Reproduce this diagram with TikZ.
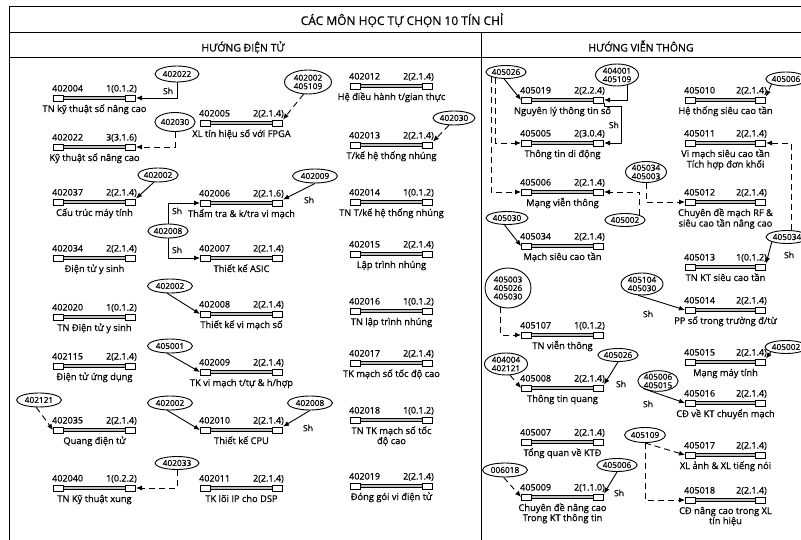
\documentclass[tikz,border=0pt]{standalone}
\usepackage{fontspec}
\setmainfont{Open Sans}[FakeBold=0.6]
\usetikzlibrary{arrows.meta,shapes.geometric}
\tikzset{
 sqbox/.style={draw, fill=white, rectangle, minimum width=10pt, minimum height=6pt, inner sep=0pt, line width=0.8pt},
 barline/.style={draw, double=gray!50, double distance=1.8pt, line width=0.7pt},
 codelbl/.style={inner sep=0pt, font=\fontsize{9}{9}\selectfont},
 namelbl/.style={inner sep=0pt, font=\fontsize{9.3}{10}\selectfont},
 pre/.style={draw, ellipse, fill=white, inner sep=0pt, line width=0.9pt, align=center, font=\fontsize{8.3}{8.5}\selectfont},
 arr/.style={line width=0.9pt, -{Latex[length=6pt,width=5pt]}},
 dsh/.style={dash pattern=on 6pt off 4pt},
 shlbl/.style={inner sep=0pt, font=\fontsize{8.5}{9}\selectfont},
 framel/.style={line width=1pt},
 hdr/.style={inner sep=0pt, font=\fontsize{10.5}{11}\selectfont},
}
\newcommand\course[7]{%
 \node[sqbox,anchor=west] (#1l) at (#2,#4) {};
 \node[sqbox,anchor=east] (#1r) at (#3,#4) {};
 \draw[barline] (#1l.east) -- (#1r.west);
 \node[codelbl,anchor=base west] (#1c) at (#2-1,#4-6.5) {#5};
 \node[codelbl,anchor=base east] (#1k) at (#3+1,#4-6.5) {#6};
 \node[namelbl,anchor=base] (#1t) at ({(#2+#3)/2},#4+14) {\begin{tabular}[t]{@{}c@{}}#7\end{tabular}};
}
\begin{document}
\begin{tikzpicture}[x=1pt,y=-1pt]
\useasboundingbox (0,0) rectangle (801,540);
% frame
\draw[framel] (801,7) -- (9,7) -- (9,540);
\draw[framel] (9,33) -- (801,33);
\draw[framel] (9,58) -- (801,58);
\draw[framel] (481,33) -- (481,540);
\node[hdr,anchor=base,font=\fontsize{12}{12}\selectfont] (title) at (402,25) {CÁC MÔN HỌC TỰ CHỌN 10 TÍN CHỈ};
\node[hdr,anchor=base] (hdl) at (243,51.5) {HƯỚNG ĐIỆN TỬ};
\node[hdr,anchor=base] (hdr) at (641,51.5) {HƯỚNG VIỄN THÔNG};

% column A
\course{a1}{53}{136}{98}{402004}{1(0.1.2)}{TN kỹ thuật số nâng cao}
\course{a2}{53}{136}{147}{402022}{3(3.1.6)}{Kỹ thuật số nâng cao}
\course{a3}{53}{136}{202}{402037}{2(2.1.4)}{Cấu trúc máy tính}
\course{a4}{53}{136}{258}{402034}{2(2.1.4)}{Điện tử y sinh}
\course{a5}{53}{136}{317}{402020}{1(0.1.2)}{TN Điện tử y sinh}
\course{a6}{53}{136}{366}{402115}{2(2.1.4)}{Điện tử ứng dụng}
\course{a7}{53}{136}{430}{402035}{2(2.1.4)}{Quang điện tử}
\course{a8}{53}{136}{488}{402040}{1(0.2.2)}{TN Kỹ thuật xung}
% column B
\course{b1}{200}{283}{123}{402005}{2(2.1.4)}{XL tín hiệu số với FPGA}
\course{b2}{200}{283}{203}{402006}{2(2.1.6)}{Thẩm tra \& k/tra vi mạch}
\course{b3}{200}{283}{258}{402007}{2(2.1.4)}{Thiết kế ASIC}
\course{b4}{200}{283}{314}{402008}{2(2.1.4)}{Thiết kế vi mạch số}
\course{b5}{200}{283}{372}{402009}{2(2.1.4)}{TK vi mạch t/tự \& h/hợp}
\course{b6}{200}{283}{430}{402010}{2(2.1.4)}{Thiết kế CPU}
\course{b7}{200}{283}{488}{402011}{2(2.1.4)}{TK lõi IP cho DSP}
% column C
\course{c1}{350}{433}{86}{402012}{2(2.1.4)}{Hệ điều hành t/gian thực}
\course{c2}{350}{433}{145}{402013}{2(2.1.4)}{T/kế hệ thống nhúng}
\course{c3}{350}{433}{202}{402014}{1(0.1.2)}{TN T/kế hệ thống nhúng}
\course{c4}{350}{433}{254}{402015}{2(2.1.4)}{Lập trình nhúng}
\course{c5}{350}{433}{311}{402016}{1(0.1.2)}{TN lập trình nhúng}
\course{c6}{350}{433}{363}{402017}{2(2.1.4)}{TK mạch số tốc độ cao}
\course{c7}{350}{433}{420}{402018}{1(0.1.2)}{TN TK mạch số tốc\\độ cao}
\course{c8}{350}{433}{486}{402019}{2(2.1.4)}{Đóng gói vi điện tử}
% column D
\course{d1}{521}{604}{100}{405019}{2(2.2.4)}{Nguyên lý thông tin số}
\course{d2}{521}{604}{143}{405005}{2(3.0.4)}{Thông tin di động}
\course{d3}{521}{604}{192}{405006}{2(2.1.4)}{Mạng viễn thông}
\course{d4}{521}{604}{246}{405034}{2(2.1.4)}{Mạch siêu cao tần}
\course{d5}{521}{604}{335}{405107}{1(0.1.2)}{TN viễn thông}
\course{d6}{521}{604}{388}{405008}{2(2.1.4)}{Thông tin quang}
\course{d7}{521}{604}{442}{405007}{2(2.1.4)}{Tổng quan về KTĐ}
\course{d8}{521}{604}{497}{405009}{2(1.1.0)}{Chuyên đề nâng cao\\Trong KT thông tin}
% column E
\course{e1}{685}{766}{100}{405010}{2(2.1.4)}{Hệ thống siêu cao tần}
\course{e2}{685}{766}{143}{405011}{2(2.1.4)}{Vi mạch siêu cao tần\\Tích hợp đơn khối}
\course{e3}{685}{766}{202}{405012}{2(2.1.4)}{Chuyên đề mạch RF \&\\siêu cao tần nâng cao}
\course{e4}{685}{766}{267}{405013}{1(0.1.2)}{TN KT siêu cao tần}
\course{e5}{685}{766}{310}{405014}{2(2.1.4)}{PP số trong trường đ/từ}
\course{e6}{685}{766}{362}{405015}{2(2.1.4)}{Mạng máy tính}
\course{e7}{685}{766}{403}{405016}{2(2.1.4)}{CĐ về KT chuyển mạch}
\course{e8}{685}{766}{455}{405017}{2(2.1.4)}{XL ảnh \& XL tiếng nói}
\course{e9}{685}{766}{500}{405018}{2(2.1.4)}{CĐ nâng cao trong XL\\tín hiệu}

% prerequisite ellipses, left
\node[pre,minimum width=44pt,minimum height=16pt] (p1) at (177,74) {402022};
\node[pre,minimum width=40pt,minimum height=19pt] (p2) at (175,122) {402030};
\node[pre,minimum width=47pt,minimum height=24pt] (p3) at (308,82) {402002\\405109};
\node[pre,minimum width=42pt,minimum height=14pt] (p4) at (454,118) {402030};
\node[pre,minimum width=40pt,minimum height=14pt] (p5) at (158,175) {402002};
\node[pre,minimum width=45pt,minimum height=14pt] (p6) at (315,176) {402009};
\node[pre,minimum width=38pt,minimum height=14pt] (p7) at (168,231) {402008};
\node[pre,minimum width=45pt,minimum height=14pt] (p8) at (170,286) {402002};
\node[pre,minimum width=45pt,minimum height=14pt] (p9) at (170,346) {405001};
\node[pre,minimum width=45pt,minimum height=14pt] (p10) at (39,400) {402121};
\node[pre,minimum width=45pt,minimum height=14pt] (p11) at (170,403) {402002};
\node[pre,minimum width=45pt,minimum height=14pt] (p12) at (310,403) {402008};
\node[pre,minimum width=44pt,minimum height=13pt] (p13) at (177,463) {402033};
% prerequisite ellipses, right
\node[pre,minimum width=40pt,minimum height=13pt] (q1) at (506,72) {405026};
\node[pre,minimum width=43pt,minimum height=22pt] (q2) at (617,75) {404001\\405109};
\node[pre,minimum width=40pt,minimum height=14pt] (q3) at (786,79) {405006};
\node[pre,minimum width=41pt,minimum height=21pt] (q4) at (646,172) {405034\\405003};
\node[pre,minimum width=40pt,minimum height=13pt] (q5) at (625,220) {405002};
\node[pre,minimum width=42pt,minimum height=13pt] (q6) at (787,237) {405034};
\node[pre,minimum width=42pt,minimum height=13pt] (q7) at (507,218) {405030};
\node[pre,minimum width=46pt,minimum height=40pt] (q8) at (508,288) {405003\\405026\\405030};
\node[pre,minimum width=42pt,minimum height=22pt] (q9) at (642,284) {405104\\405030};
\node[pre,minimum width=42pt,minimum height=13pt] (q10) at (786,347) {405002};
\node[pre,minimum width=43pt,minimum height=22pt] (q11) at (506,364) {404004\\402121};
\node[pre,minimum width=38pt,minimum height=13pt] (q12) at (618,355) {405026};
\node[pre,minimum width=36pt,minimum height=19pt] (q13) at (658,381) {405006\\405015};
\node[pre,minimum width=41pt,minimum height=15pt] (q14) at (645,435) {405109};
\node[pre,minimum width=45pt,minimum height=14pt] (q15) at (505,470) {006018};
\node[pre,minimum width=38pt,minimum height=13pt] (q16) at (617,465) {405006};

% connectors, left
\draw[arr] (p1.south) |- (a1r.east);
\node[shlbl] (s1) at (168,91) {Sh};
\draw[arr,dsh] (p2.south) |- (a2r.east);
\draw[arr,dsh] (p3.250) -- (b1r.north east);
\draw[arr,dsh] (p4.235) -- (c2r.north east);
\draw[arr] (p5.240) -- (a3r.north east);
\draw[arr] (p6.south) -- (b2r.north east);
\node[shlbl] (s2) at (309,200) {Sh};
\draw[arr] (p7.north) |- (b2l.west);
\draw[arr] (p7.south) |- (b3l.west);
\node[shlbl] (s3) at (177,211) {Sh};
\node[shlbl] (s4) at (177,250) {Sh};
\draw[arr] (p8.250) -- (b4l.west);
\draw[arr] (p9.250) -- (b5l.west);
\draw[arr,dsh] (p10.250) -- (a7l.west);
\draw[arr] (p11.250) -- (b6l.west);
\draw[arr] (p12.south) -- (b6r.north east);
\node[shlbl] (s5) at (308,428) {Sh};
\draw[arr,dsh] (p13.south) |- (a8r.east);

% connectors, right
\draw[arr] (q1.255) -- (d1l.west);
\draw[arr,dsh] (q1.south west) |- (d3l.west);
\draw[arr,dsh] (q1.210) |- (d2l.west);
\draw[arr] (q2.-45) |- (d1r.east);
\coordinate (sh1) at (621,106);
\draw[arr] (d1r.south east) |- (sh1) |- (d2r.east);
\node[shlbl,anchor=east] (s6) at (619,125) {Sh};
\draw[arr,dsh] (q3.south west) -- (e1r.north east);
\draw[arr,dsh] (q6.60) |- (e2r.east);
\draw[arr] (q6.south west) -- (e4r.north east);
\node[shlbl] (s7) at (789,255) {Sh};
\draw[arr,dsh] (q4.south) |- (e3l.west);
\draw[arr,dsh] (q5.north east) |- (d3r.east);
\draw[arr] (q7.250) -- (d4l.west);
\draw[arr,dsh] (q8.250) |- (d5l.west);
\draw[arr] (q9.250) -- (e5l.west);
\node[shlbl] (s8) at (648,314) {Sh};
\draw[arr,dsh] (q10.south west) -- (e6r.north east);
\draw[arr,dsh] (q11.-70) -- (d6l.west);
\draw[arr] (q12.south) -- (d6r.north east);
\node[shlbl] (s9) at (621,384) {Sh};
\draw[arr] (q13.south west) -- (e7l.west);
\node[shlbl] (s10) at (648,404) {Sh};
\draw[arr,dsh] (q14.south) -- (e8l.west);
\draw[arr,dsh] (q14.south) |- (e9l.west);
\draw[arr,dsh] (q15.-100) -- (d8l.west);
\draw[arr] (q16.south) -- (d8r.north east);
\node[shlbl] (s11) at (619,493) {Sh};
\end{tikzpicture}
\end{document}
